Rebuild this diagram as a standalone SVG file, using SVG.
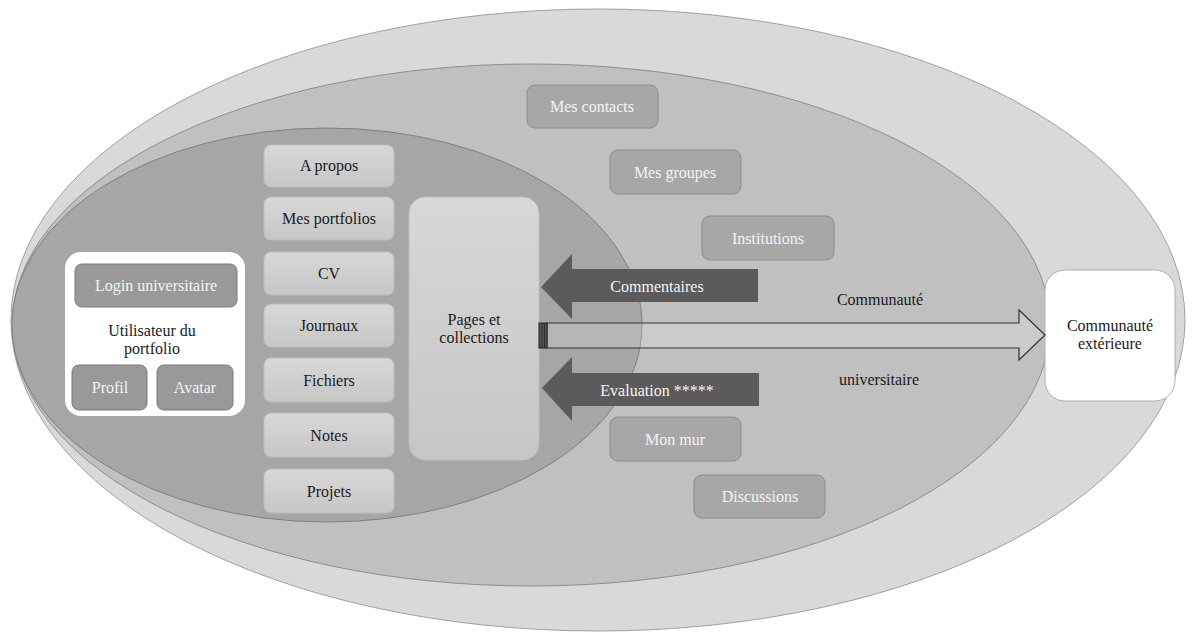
<svg xmlns="http://www.w3.org/2000/svg" width="1195" height="632" viewBox="0 0 1195 632">
<style>
text{font-family:"Liberation Serif","Times New Roman",serif;font-size:16px;text-anchor:middle}
.w{fill:#f4f4f4}
.k{fill:#1a1a1a}
.lb{fill:url(#lg);stroke:#bdbdbd;stroke-width:1}
.db{fill:#a7a7a7;stroke:#8c8c8c;stroke-width:1}
.gb{fill:#999;stroke:#7a7a7a;stroke-width:1}
.arr{fill:#5b5b5b}
</style>
<defs>
<linearGradient id="lg" x1="0" y1="0" x2="0" y2="1">
<stop offset="0" stop-color="#d8d8d8"/>
<stop offset="1" stop-color="#c6c6c6"/>
</linearGradient>
</defs>
<g id="outer-ellipse"><ellipse cx="598" cy="320" rx="587" ry="311" fill="#d9d9d9" stroke="#a0a0a0" stroke-width="1"/></g>
<g id="middle-ellipse"><ellipse cx="531" cy="325" rx="519" ry="261" fill="#c0c0c0" stroke="#8e8e8e" stroke-width="1"/></g>
<g id="inner-ellipse"><ellipse cx="327" cy="325" rx="315" ry="197" fill="#a6a6a6" stroke="#808080" stroke-width="1"/></g>

<g id="utilisateur">
<rect x="65" y="252" width="180" height="164" rx="16" fill="#fff"/>
<text class="k" x="152" y="336">Utilisateur  du</text>
<text class="k" x="152" y="354">portfolio</text>
</g>
<g id="login"><rect class="gb" x="75" y="264" width="162" height="43" rx="7"/><text class="w" x="156" y="291">Login universitaire</text></g>
<g id="profil"><rect class="gb" x="72" y="365" width="75" height="45" rx="7"/><text class="w" x="110" y="393">Profil</text></g>
<g id="avatar"><rect class="gb" x="157" y="365" width="76" height="45" rx="7"/><text class="w" x="195" y="393">Avatar</text></g>

<g id="apropos"><rect class="lb" x="264" y="145" width="130" height="42" rx="7"/><text class="k" x="329" y="171">A propos</text></g>
<g id="portfolios"><rect class="lb" x="264" y="197" width="130" height="43" rx="7"/><text class="k" x="329" y="224">Mes portfolios</text></g>
<g id="cv"><rect class="lb" x="264" y="252" width="130" height="43" rx="7"/><text class="k" x="329" y="279">CV</text></g>
<g id="journaux"><rect class="lb" x="264" y="304" width="130" height="43" rx="7"/><text class="k" x="329" y="331">Journaux</text></g>
<g id="fichiers"><rect class="lb" x="264" y="358" width="130" height="44" rx="7"/><text class="k" x="329" y="386">Fichiers</text></g>
<g id="notes"><rect class="lb" x="264" y="413" width="130" height="44" rx="7"/><text class="k" x="329" y="441">Notes</text></g>
<g id="projets"><rect class="lb" x="264" y="469" width="130" height="44" rx="7"/><text class="k" x="329" y="497">Projets</text></g>

<g id="pages"><rect class="lb" x="409" y="197" width="130" height="263" rx="16"/><text class="k" x="474" y="325">Pages et</text><text class="k" x="474" y="343">collections</text></g>

<g id="contacts"><rect class="db" x="527" y="85" width="131" height="43" rx="8"/><text class="w" x="592" y="112">Mes contacts</text></g>
<g id="groupes"><rect class="db" x="610" y="150" width="131" height="44" rx="8"/><text class="w" x="675" y="178">Mes groupes</text></g>
<g id="institutions"><rect class="db" x="702" y="216" width="132" height="44" rx="8"/><text class="w" x="768" y="244">Institutions</text></g>
<g id="monmur"><rect class="db" x="610" y="417" width="131" height="44" rx="8"/><text class="w" x="675" y="445">Mon mur</text></g>
<g id="discussions"><rect class="db" x="694" y="475" width="131" height="43" rx="8"/><text class="w" x="760" y="502">Discussions</text></g>

<g id="exterieure"><rect x="1045" y="270" width="130" height="131" rx="20" fill="#fff" stroke="#b0b0b0" stroke-width="1"/><text class="k" x="1110" y="331">Communauté</text><text class="k" x="1110" y="349">extérieure</text></g>

<g id="connectors">
<polygon class="arr" points="541,287 572,254 572,269 758,269 758,302 572,302 572,319"/>
<text class="w" x="657" y="292">Commentaires</text>
<polygon class="arr" points="542,388 572,357 572,373 759,373 759,406 572,406 572,421"/>
<text class="w" x="657" y="396">Evaluation  *****</text>
<polygon points="547,323 1019,323 1019,310 1045,335 1019,360 1019,348 547,348" fill="#fff" fill-opacity="0.18" stroke="#333" stroke-width="1.2"/>
<rect x="539" y="323" width="8" height="25" fill="#555" stroke="#222" stroke-width="1"/>
<line x1="542" y1="323" x2="542" y2="348" stroke="#222" stroke-width="0.8"/>
<line x1="544.5" y1="323" x2="544.5" y2="348" stroke="#222" stroke-width="0.8"/>
<text class="k" x="880" y="305">Communauté</text>
<text class="k" x="879" y="385">universitaire</text>
</g>
</svg>
